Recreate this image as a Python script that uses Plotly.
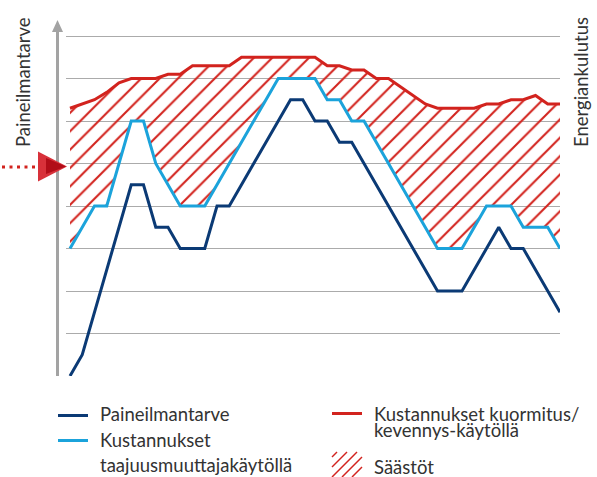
import plotly.graph_objects as go

# ---- data (x = time step index, y = level in half-grid units) ----
demand_x = [0, 1, 5, 6, 7, 8, 9, 11, 12, 13, 18, 19, 20, 21, 22, 23, 30, 32, 35, 36, 37, 40]
demand_y = [0, 1, 9, 9, 7, 7, 6, 6, 8, 8, 13, 13, 12, 12, 11, 11, 4, 4, 7, 6, 6, 3]

vsd_x = [0, 2, 3, 5, 6, 7, 9, 11, 17, 20, 21, 22, 23, 24, 30, 32, 34, 36, 37, 39, 40]
vsd_y = [6, 8, 8, 12, 12, 10, 8, 8, 14, 14, 13, 13, 12, 12, 6, 6, 8, 8, 7, 7, 6]

load_x = [0, 2, 3, 4, 5, 7, 8, 9, 10, 13, 14, 20, 21, 22, 23, 24, 25, 26, 29, 30, 33, 34, 35, 36, 37, 38, 39, 40]
load_y = [12.6, 13.0, 13.35, 13.8, 14.0, 14.0, 14.2, 14.2, 14.6, 14.6, 15.0, 15.0, 14.6, 14.6, 14.4, 14.4,
          14.0, 14.0, 12.8, 12.6, 12.6, 12.8, 12.8, 13.0, 13.0, 13.2, 12.8, 12.8]

grid_vals = [2, 4, 6, 8, 10, 12, 14, 16]

legend_demand = "Paineilmantarve"
legend_vsd = ["Kustannukset", "taajuusmuuttajakäytöllä"]
legend_load = ["Kustannukset kuormitus/", "kevennys-käytöllä"]
legend_savings = "Säästöt"
y_title_left = "Paineilmantarve"
y_title_right = "Energiankulutus"

C_DARK = "#0b3a75"
C_LIGHT = "#1ba3db"
C_RED = "#d2231e"
C_TEXT = "#333333"
FONT = "Lato"
FS = 18.5

# plot area in pixels
L, R, T, B = 66, 560, 25, 376
W, H = R - L, B - T


def PX(p):
    return (p - L) / W


def PY(p):
    return (B - p) / H


fig = go.Figure()

# hatched savings area between the two cost curves
fig.add_trace(go.Scatter(x=vsd_x, y=vsd_y, mode="lines", line=dict(width=0, color="rgba(0,0,0,0)"),
                         hoverinfo="skip", showlegend=False))
fig.add_trace(go.Scatter(x=load_x, y=load_y, mode="lines", line=dict(width=0, color="rgba(0,0,0,0)"),
                         fill="tonexty", fillcolor="rgba(0,0,0,0)",
                         fillpattern=dict(shape="/", fgcolor=C_RED, fgopacity=1, bgcolor="rgba(0,0,0,0)",
                                          size=13, solidity=0.16),
                         hoverinfo="skip", showlegend=False))

fig.add_trace(go.Scatter(x=load_x, y=load_y, mode="lines", line=dict(color=C_RED, width=3),
                         showlegend=False))
fig.add_trace(go.Scatter(x=vsd_x, y=vsd_y, mode="lines", line=dict(color=C_LIGHT, width=3),
                         showlegend=False))
fig.add_trace(go.Scatter(x=demand_x, y=demand_y, mode="lines", line=dict(color=C_DARK, width=3),
                         showlegend=False))

shapes = []
# vertical axis arrow
shapes.append(dict(type="line", xref="paper", yref="paper", x0=PX(57.5), x1=PX(57.5), y0=PY(376), y1=PY(31),
                   line=dict(color="#a3a3a3", width=3)))
shapes.append(dict(type="path", xref="paper", yref="paper",
                   path=f"M {PX(52)} {PY(32)} L {PX(63)} {PY(32)} L {PX(57.5)} {PY(20)} Z",
                   fillcolor="#a3a3a3", line=dict(width=0)))
# red pointer triangle + dotted line
shapes.append(dict(type="line", xref="paper", yref="paper", x0=PX(2), x1=PX(38), y0=PY(167), y1=PY(167),
                   line=dict(color=C_RED, width=3, dash="3px,4.5px")))
shapes.append(dict(type="path", xref="paper", yref="paper",
                   path=f"M {PX(38)} {PY(151.5)} L {PX(38)} {PY(181.5)} L {PX(67)} {PY(166.5)} Z",
                   fillcolor="#d8313a", line=dict(width=0)))
shapes.append(dict(type="path", xref="paper", yref="paper",
                   path=f"M {PX(46)} {PY(158)} L {PX(46)} {PY(174)} L {PX(66)} {PY(166.5)} Z",
                   fillcolor="#b10d18", line=dict(width=0)))

# legend line samples
shapes.append(dict(type="line", xref="paper", yref="paper", x0=PX(58), x1=PX(88), y0=PY(415.5), y1=PY(415.5),
                   line=dict(color=C_DARK, width=3)))
shapes.append(dict(type="line", xref="paper", yref="paper", x0=PX(58), x1=PX(88), y0=PY(440.5), y1=PY(440.5),
                   line=dict(color=C_LIGHT, width=3)))
shapes.append(dict(type="line", xref="paper", yref="paper", x0=PX(332), x1=PX(362), y0=PY(413.5), y1=PY(413.5),
                   line=dict(color=C_RED, width=3)))
# legend hatch icon
bx0, bx1, by_bot, by_top = 332, 362, 477, 452
bw, bh = bx1 - bx0, by_bot - by_top
for d in [-20, -10, 0, 10, 20]:
    w0 = max(0, -d)
    u0 = w0 + d
    u1 = min(bw, bh + d)
    w1 = u1 - d
    if u1 <= u0:
        continue
    shapes.append(dict(type="line", xref="paper", yref="paper",
                       x0=PX(bx0 + u0), y0=PY(by_bot - w0), x1=PX(bx0 + u1), y1=PY(by_bot - w1),
                       line=dict(color=C_RED, width=1.5)))


def txt(t, x, y, angle=0, xanchor="left"):
    return dict(text=t, textangle=angle, x=PX(x), y=PY(y), xref="paper", yref="paper", showarrow=False,
                font=dict(family=FONT, size=FS, color=C_TEXT), xanchor=xanchor, yanchor="middle",
                align="left")


annotations = [
    txt(y_title_left, 23, 82, -90, "center"),
    txt(y_title_right, 581, 82, -90, "center"),
    txt(legend_demand, 97.5, 413.8),
    txt(legend_vsd[0], 97.5, 439.8),
    txt(legend_vsd[1], 97.5, 464.5),
    txt(legend_load[0], 371.5, 414.3),
    txt(legend_load[1], 371.5, 429.8),
    txt(legend_savings, 371.5, 467),
]

fig.update_layout(
    width=597, height=477,
    margin=dict(l=L, r=597 - R, t=T, b=477 - B),
    paper_bgcolor="white", plot_bgcolor="white",
    showlegend=False,
    shapes=shapes, annotations=annotations,
    font=dict(family=FONT, color=C_TEXT),
)
fig.update_xaxes(range=[(L - 70) / 12.25, 40], showgrid=False, zeroline=False, showticklabels=False,
                 showline=False, ticks="")
fig.update_yaxes(range=[0, H / 21.25], tickvals=grid_vals, showgrid=True, gridcolor="#ababab", gridwidth=1,
                 zeroline=False, showticklabels=False, showline=False, ticks="")

fig.write_html("out.html", config={"displayModeBar": False},
               post_script="document.body.style.margin='0';document.body.style.overflow='hidden';")
